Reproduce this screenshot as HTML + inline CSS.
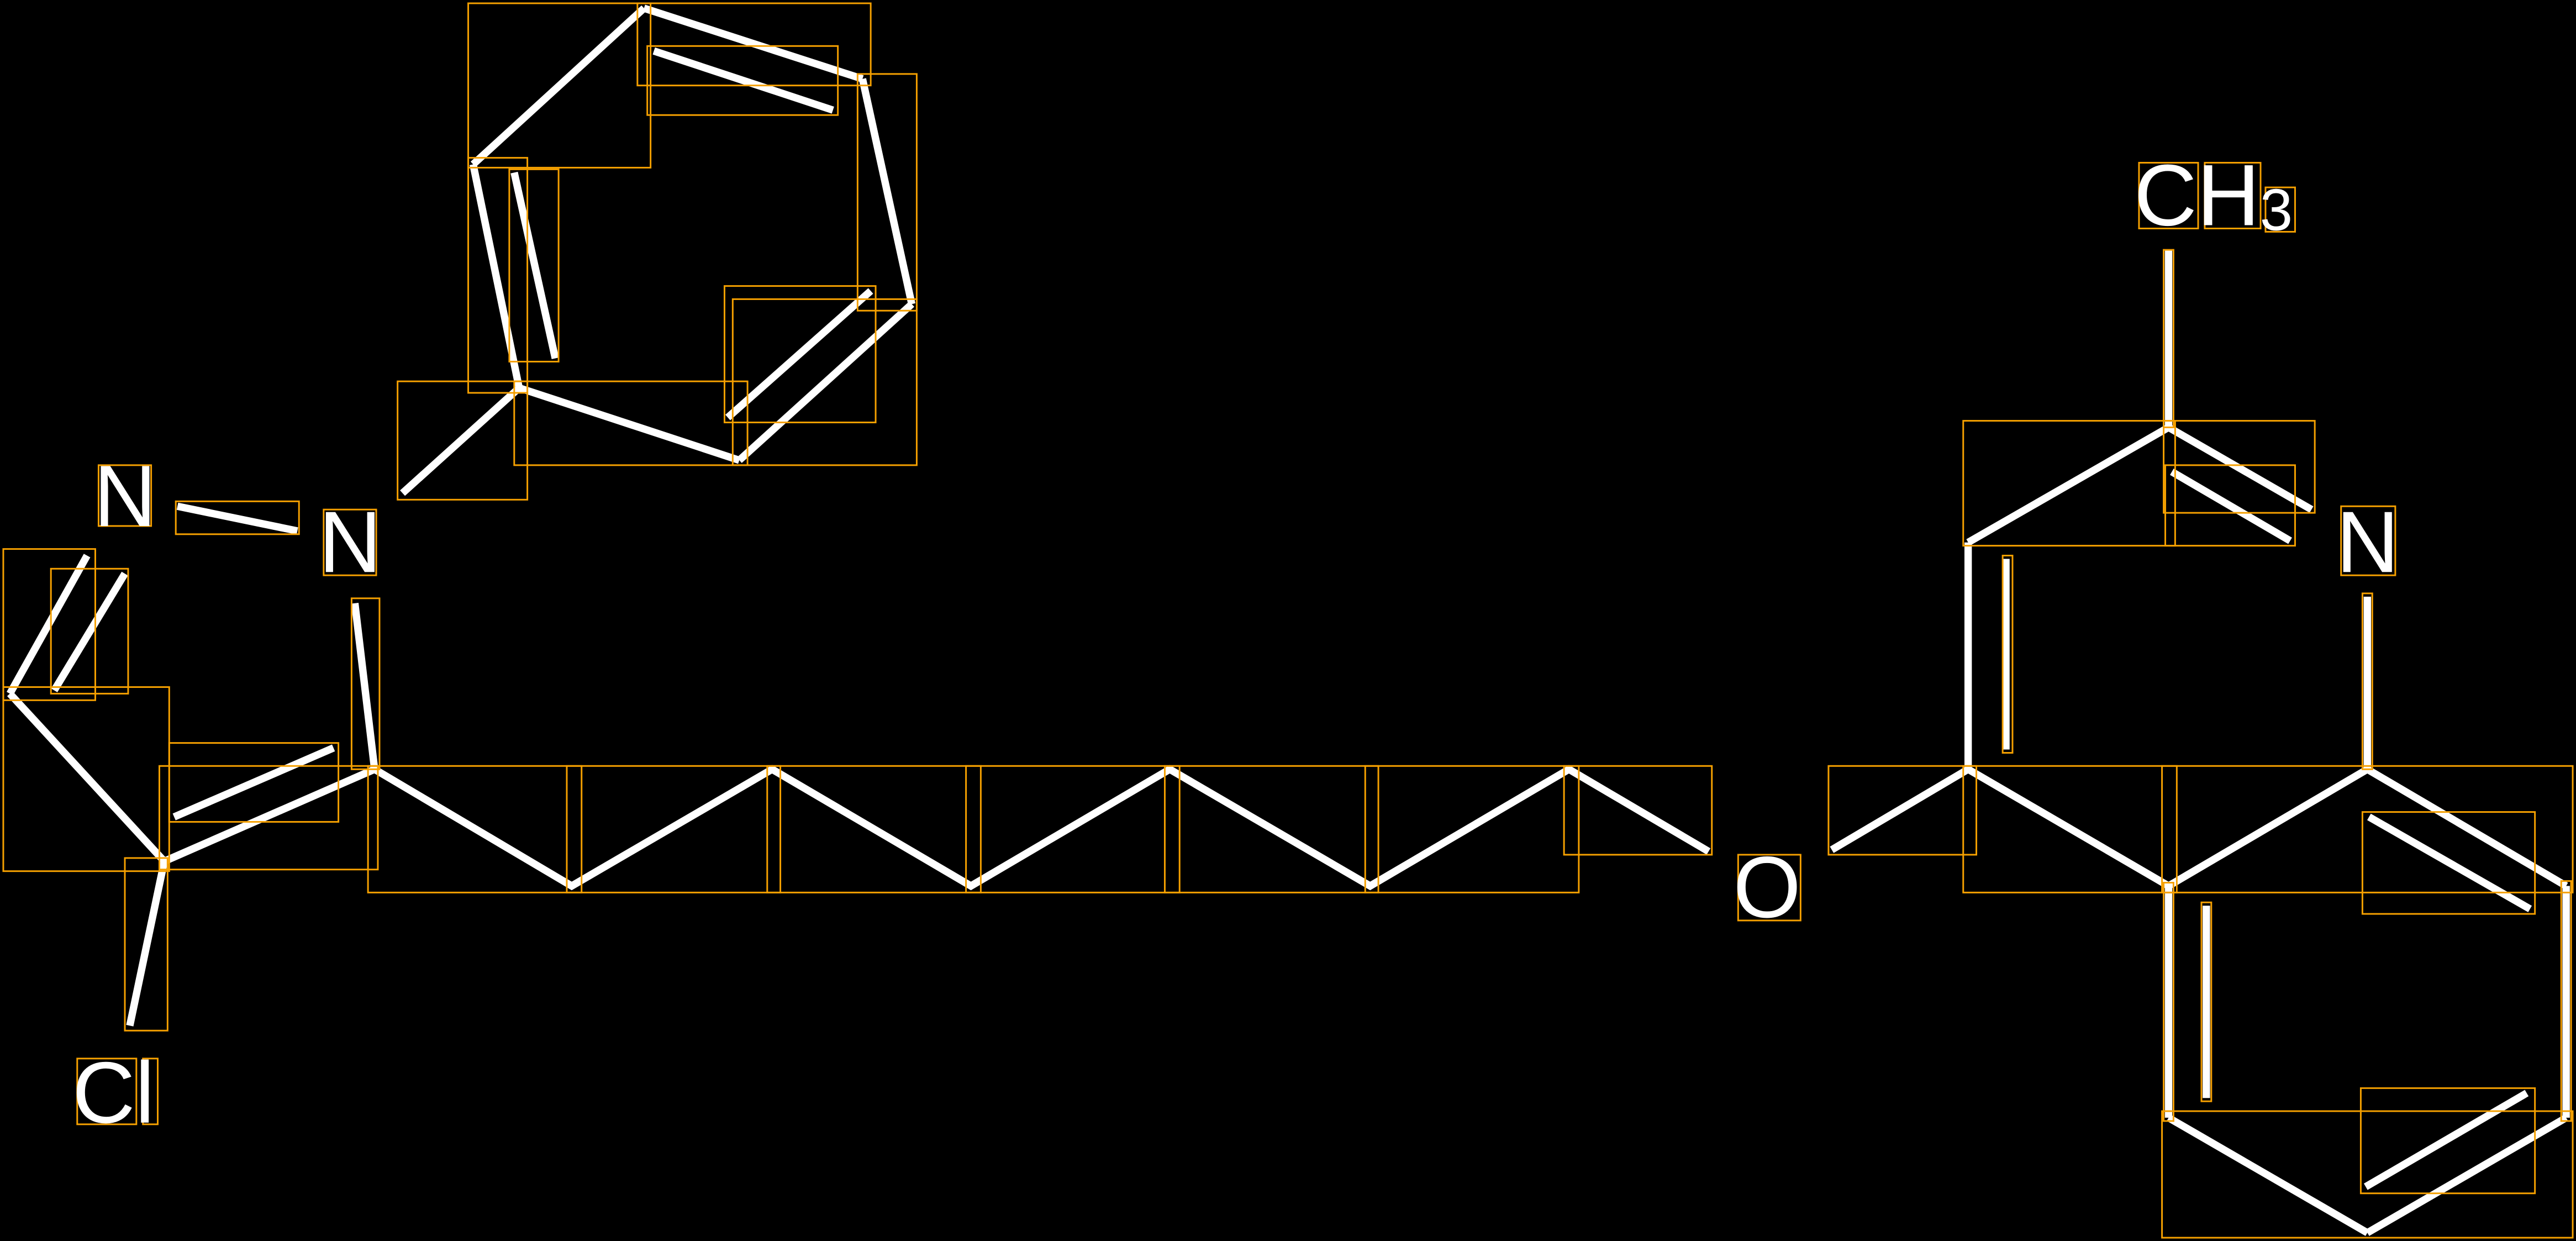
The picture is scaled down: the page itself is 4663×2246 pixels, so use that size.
<!DOCTYPE html>
<html><head><meta charset="utf-8"><style>html,body{margin:0;padding:0;background:#000;width:4663px;height:2246px;overflow:hidden}svg{display:block}</style></head>
<body>
<svg width="4663" height="2246" viewBox="0 0 1568 755" preserveAspectRatio="none" xmlns="http://www.w3.org/2000/svg">
<rect width="1568" height="755" fill="#000"/>
<g stroke="#fff" stroke-width="4.5" fill="none" stroke-linecap="butt">
<line x1="288" y1="100" x2="392" y2="5"/>
<line x1="392" y1="5" x2="525" y2="48"/>
<line x1="398" y1="31" x2="507" y2="67"/>
<line x1="525" y1="48" x2="555" y2="185"/>
<line x1="555" y1="185" x2="450" y2="280"/>
<line x1="443" y1="254" x2="530" y2="177"/>
<line x1="450" y1="280" x2="316" y2="236"/>
<line x1="316" y1="236" x2="288" y2="100"/>
<line x1="313" y1="105" x2="338" y2="218"/>
<line x1="316" y1="236" x2="245" y2="300"/>
<line x1="108" y1="308" x2="181" y2="323"/>
<line x1="53" y1="338" x2="6" y2="422"/>
<line x1="76" y1="349" x2="33" y2="420"/>
<line x1="6" y1="422" x2="100" y2="524"/>
<line x1="100" y1="524" x2="228" y2="468"/>
<line x1="106" y1="497" x2="203" y2="455"/>
<line x1="100" y1="524" x2="79" y2="624"/>
<line x1="216" y1="367" x2="228" y2="468"/>
<polyline points="228,468 348,539 470,468 591,539 712,468 834,539 955,468 1040,518"/>
<line x1="1115" y1="517" x2="1198" y2="468"/>
<polyline points="1198,468 1320,539 1441,468"/>
<line x1="1198" y1="468" x2="1198" y2="330"/>
<line x1="1221" y1="340" x2="1221" y2="456"/>
<line x1="1198" y1="330" x2="1320" y2="260"/>
<line x1="1320" y1="260" x2="1320" y2="152"/>
<line x1="1320" y1="260" x2="1407" y2="310"/>
<line x1="1322" y1="287" x2="1394" y2="329"/>
<line x1="1441" y1="363" x2="1441" y2="468"/>
<line x1="1441" y1="468" x2="1562" y2="539"/>
<line x1="1442" y1="497" x2="1540" y2="553"/>
<line x1="1562" y1="539" x2="1562" y2="680"/>
<line x1="1562" y1="680" x2="1441" y2="750"/>
<line x1="1440" y1="722" x2="1538" y2="665"/>
<line x1="1441" y1="750" x2="1320" y2="680"/>
<line x1="1320" y1="680" x2="1320" y2="539"/>
<line x1="1343" y1="551" x2="1343" y2="668"/>
</g>
<g stroke="#f5a000" stroke-width="1" fill="none">
<rect x="285" y="2" width="111" height="100"/>
<rect x="388" y="2" width="142" height="50"/>
<rect x="394" y="28" width="116" height="42"/>
<rect x="522" y="45" width="36" height="144"/>
<rect x="441" y="174" width="92" height="83"/>
<rect x="446" y="182" width="112" height="101"/>
<rect x="313" y="232" width="142" height="51"/>
<rect x="285" y="96" width="36" height="143"/>
<rect x="310" y="103" width="30" height="117"/>
<rect x="242" y="232" width="79" height="72"/>
<rect x="60" y="283" width="32" height="37"/>
<rect x="107" y="305" width="75" height="20"/>
<rect x="197" y="310" width="32" height="40"/>
<rect x="2" y="334" width="56" height="92"/>
<rect x="31" y="346" width="47" height="76"/>
<rect x="2" y="418" width="101" height="112"/>
<rect x="103" y="452" width="103" height="48"/>
<rect x="97" y="466" width="133" height="63"/>
<rect x="76" y="522" width="26" height="105"/>
<rect x="214" y="364" width="17" height="104"/>
<rect x="47" y="644" width="36" height="40"/>
<rect x="87" y="644" width="9" height="40"/>
<rect x="224" y="466" width="130" height="77"/>
<rect x="345" y="466" width="130" height="77"/>
<rect x="467" y="466" width="130" height="77"/>
<rect x="588" y="466" width="130" height="77"/>
<rect x="709" y="466" width="130" height="77"/>
<rect x="831" y="466" width="130" height="77"/>
<rect x="952" y="466" width="90" height="54"/>
<rect x="1058" y="520" width="38" height="40"/>
<rect x="1113" y="466" width="90" height="54"/>
<rect x="1195" y="466" width="130" height="77"/>
<rect x="1316" y="466" width="250" height="77"/>
<rect x="1195" y="256" width="129" height="76"/>
<rect x="1317" y="256" width="92" height="56"/>
<rect x="1318" y="283" width="79" height="49"/>
<rect x="1219" y="338" width="6" height="120"/>
<rect x="1317" y="152" width="6" height="108"/>
<rect x="1302" y="99" width="36" height="40"/>
<rect x="1342" y="99" width="34" height="40"/>
<rect x="1379" y="114" width="18" height="27"/>
<rect x="1425" y="308" width="33" height="42"/>
<rect x="1438" y="361" width="6" height="107"/>
<rect x="1438" y="494" width="105" height="62"/>
<rect x="1559" y="536" width="6" height="146"/>
<rect x="1437" y="662" width="106" height="64"/>
<rect x="1316" y="676" width="250" height="77"/>
<rect x="1317" y="537" width="6" height="145"/>
<rect x="1340" y="549" width="6" height="121"/>
</g>
<g fill="#fff" font-family="Liberation Sans, sans-serif" font-size="53">
<text x="57" y="320">N</text>
<text x="194" y="348">N</text>
<text x="44" y="683">Cl</text>
<text x="1055" y="558">O</text>
<text x="1299" y="137">CH<tspan font-size="36" dy="3">3</tspan></text>
<text x="1422" y="348">N</text>
</g>
</svg>
</body></html>
